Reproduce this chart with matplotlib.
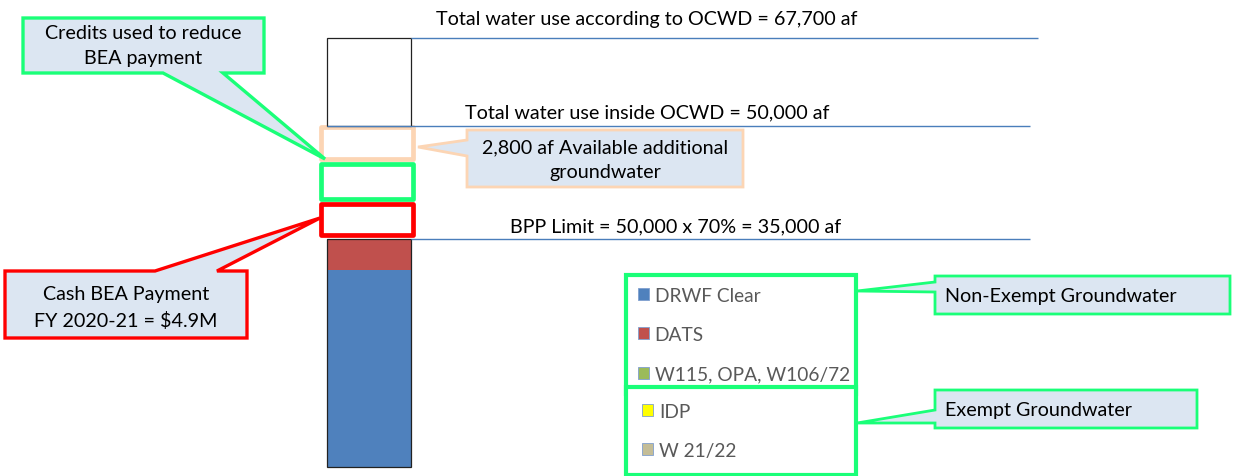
import numpy as np
import matplotlib.pyplot as plt
from matplotlib.patches import Polygon, Patch

plt.rcParams['font.family'] = ['Lato', 'DejaVu Sans']

# stacked groundwater bar, af (bar top = 67,700 af)
series = ["DRWF Clear", "DATS", "W115, OPA, W106/72", "IDP", "W 21/22"]
series_af = [31100, 4900, 0, 0, 0]
series_colors = ["#4f81bd", "#c0504d", "#9bbb59", "#ffff00", "#c4bd97"]

# white parts above the BPP limit
upper_parts = ["Cash BEA payment", "Credits", "Available additional", "Outside OCWD"]
upper_af = [5700, 6300, 5800, 13900]
upper_edges = ["#ff0000", "#1aff78", "#fcd5b4", "#222222"]

line_levels = [67700, 53800, 36000]
line_labels = ["Total water use according to OCWD = 67,700 af",
               "Total water use inside OCWD = 50,000 af",
               "BPP Limit = 50,000 x 70% = 35,000 af"]

W, H = 1233, 477
FS = 14.2
GREEN = "#1aff78"
FILL = "#dce6f2"

fig = plt.figure(figsize=(W / 100, H / 100), dpi=100)

# bar axes: x in pixels, y in af
k = 67700 / 429
ax = fig.add_axes([0, 0, 1, 1])
ax.set_xlim(0, W)
ax.set_ylim(-9 * k, 468 * k)
ax.axis('off')

xb, wb = 369, 84
bottom = 0
for name, v, c in zip(series, series_af, series_colors):
    ax.bar(xb, v, wb, bottom=bottom, color=c, linewidth=0)
    bottom += v
ax.bar(xb, bottom, wb, fill=False, edgecolor="#222222", linewidth=0.9)

for name, v, c in zip(upper_parts, upper_af, upper_edges):
    if name == "Outside OCWD":
        ax.bar(xb, v, wb, bottom=bottom, facecolor="white", edgecolor=c, linewidth=0.9)
    else:
        ax.bar(xb - 2, v - 5 * k, wb + 8, bottom=bottom + 4 * k, facecolor="white",
               edgecolor=c, linewidth=3.4, joinstyle='round')
    bottom += v

ends = [1038, 1030, 1030]
starts = [xb + wb / 2, xb - wb / 2, xb + wb / 2]
for lev, s, e in zip(line_levels, starts, ends):
    ax.hlines(lev, s, e, color="#4a7ebb", linewidth=1)

# overlay in pixel coords for labels and callouts
ov = fig.add_axes([0, 0, 1, 1])
ov.set_xlim(0, W)
ov.set_ylim(H, 0)
ov.axis('off')

label_pos = [(647, 20), (647, 113), (676, 227)]
for t, (x, y) in zip(line_labels, label_pos):
    ov.text(x, y, t, ha='center', va='center', fontsize=FS)


def callout(box, wedge, side, edge, lw):
    x0, y0, x1, y1 = box
    a, b, tip = wedge
    if side == 'bottom':
        pts = [(x0, y0), (x1, y0), (x1, y1), (b, y1), tip, (a, y1), (x0, y1)]
    elif side == 'top':
        pts = [(x0, y0), (a, y0), tip, (b, y0), (x1, y0), (x1, y1), (x0, y1)]
    else:
        pts = [(x0, y0), (x1, y0), (x1, y1), (x0, y1), (x0, b), tip, (x0, a)]
    ov.add_patch(Polygon(pts, closed=True, facecolor=FILL, edgecolor=edge,
                         linewidth=lw, joinstyle='miter'))


callout((23, 19, 264, 74), (163, 223, (325, 160)), 'bottom', GREEN, 2.4)
ov.text(143, 46, "Credits used to reduce\nBEA payment", ha='center', va='center',
        fontsize=FS, linespacing=1.6)

callout((5, 272, 247, 339), (155, 217, (320, 219)), 'top', "#ff0000", 2.4)
ov.text(126, 308, "Cash BEA Payment\nFY 2020-21 = $4.9M", ha='center', va='center',
        fontsize=FS, linespacing=1.6)

callout((467, 131, 743, 188), (141, 157, (418, 148)), 'left', "#fcd5b4", 2)
ov.text(605, 160, "2,800 af Available additional\ngroundwater", ha='center', va='center',
        fontsize=FS, linespacing=1.55)

callout((935, 277, 1230, 315), (283, 293, (857, 292)), 'left', GREEN, 2)
ov.text(945, 297, "Non-Exempt Groundwater", ha='left', va='center', fontsize=FS)

callout((935, 391, 1197, 429), (411, 424, (857, 424)), 'left', GREEN, 2)
ov.text(945, 411, "Exempt Groundwater", ha='left', va='center', fontsize=FS)

# legends
handles = [Patch(facecolor=c, edgecolor="#7f9fcf", linewidth=0.6) for c in series_colors]


def fig_box(x0, y0, x1, y1):
    return (x0 / W, 1 - y1 / H, (x1 - x0) / W, (y1 - y0) / H)


LFS = 13.8
leg1 = ov.legend(handles[:3], series[:3], loc='upper left', mode='expand',
                 bbox_to_anchor=fig_box(626, 276, 856, 388), bbox_transform=fig.transFigure,
                 fontsize=LFS, labelcolor="#595959", fancybox=False, framealpha=1,
                 handlelength=0.6, handleheight=0.6, handletextpad=0.3,
                 labelspacing=1.17, borderpad=0.6, borderaxespad=0)
leg1.get_frame().set_edgecolor(GREEN)
leg1.get_frame().set_linewidth(3)
ov.add_artist(leg1)

leg2 = ov.legend(handles[3:], series[3:], loc='upper left', mode='expand',
                 bbox_to_anchor=fig_box(626, 388, 856, 470), bbox_transform=fig.transFigure,
                 fontsize=LFS, labelcolor="#595959", fancybox=False, framealpha=1,
                 handlelength=0.6, handleheight=0.6, handletextpad=0.3,
                 labelspacing=1.17, borderpad=0.82, borderaxespad=0)
leg2.get_frame().set_edgecolor(GREEN)
leg2.get_frame().set_linewidth(3)

fig.savefig("out.png", dpi=100)
